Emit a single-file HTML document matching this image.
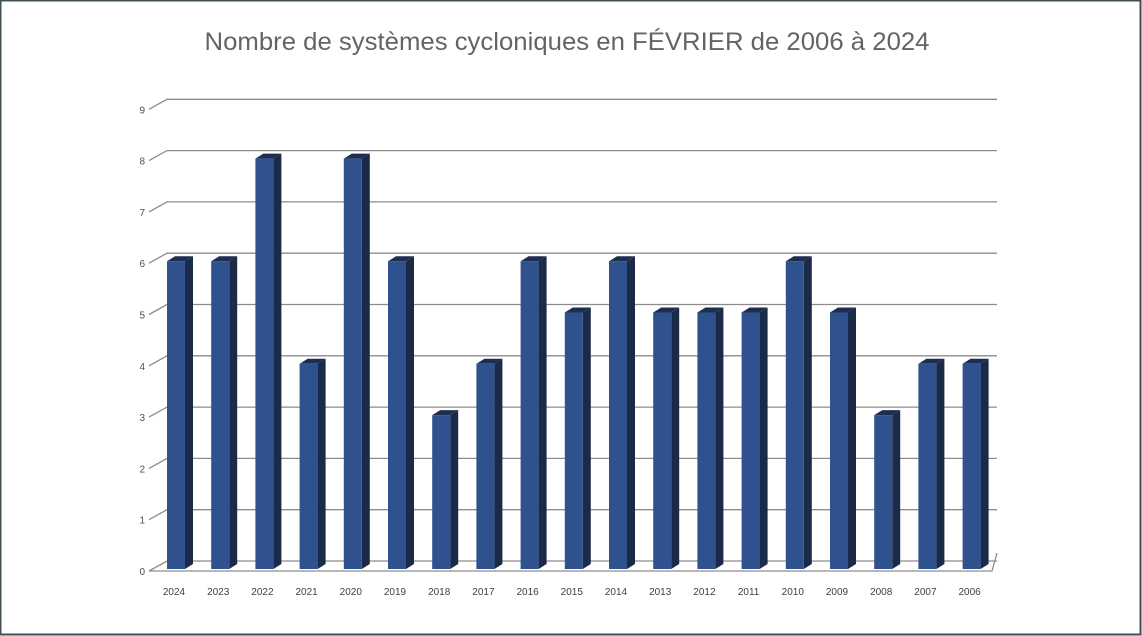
<!DOCTYPE html>
<html><head><meta charset="utf-8"><style>
html,body{margin:0;padding:0;background:#fff;}
svg{display:block;}
</style></head><body>
<svg id="chart" width="1142" height="636" xmlns="http://www.w3.org/2000/svg" font-family="Liberation Sans, sans-serif">
<rect x="0.5" y="0.5" width="1140" height="634" fill="#fff" stroke="#3f4f55" stroke-width="2"/>
<text x="567" y="50" text-anchor="middle" font-size="25" fill="#646464" textLength="725" lengthAdjust="spacingAndGlyphs">Nombre de systèmes cycloniques en FÉVRIER de 2006 à 2024</text>
<g id="grid"></g>
<g id="bars"></g>
<g id="labels"></g>
</svg>
<script>
const categories = ["2024","2023","2022","2021","2020","2019","2018","2017","2016","2015","2014","2013","2012","2011","2010","2009","2008","2007","2006"];
const values = [6,6,8,4,8,6,3,4,6,5,6,5,5,5,6,5,3,4,4];
const yTicks = [0,1,2,3,4,5,6,7,8,9];

const NS = "http://www.w3.org/2000/svg";
const frontX = 149, backX = 167, backRight = 997;
const frontY0 = 571, unit = 51.3, wallDy = 10;
const barBase = 569, barW = 18, depthX = 8, depthY = 5;
const barX0 = 167, pitch = 44.2;
function yFront(v){ return frontY0 - v*unit; }
function yBar(v){ return barBase - v*unit; }
function xBar(i){ return barX0 + i*pitch; }
function mk(tag, attrs, parent){ const e=document.createElementNS(NS,tag); for(const k in attrs) e.setAttribute(k,attrs[k]); parent.appendChild(e); return e; }

const grid = document.getElementById('grid');
yTicks.forEach(t=>{
  const yf = yFront(t), yb = yf - wallDy;
  const g = mk('g',{},grid);
  
  
  mk('polyline',{points:`${frontX},${yf} ${backX},${yb} ${backRight},${yb}`,fill:'none',stroke:'#8c8c8c','stroke-width':1.3},g);
  const tx = mk('text',{x:frontX-4,y:yf+4,'text-anchor':'end','font-size':10,fill:'#505050'},g);
  tx.textContent = t;
  
  
});
const floor = mk('polyline',{points:`${frontX},${frontY0} ${992},${frontY0} ${backRight},${frontY0-wallDy-8}`,fill:'none',stroke:'#8c8c8c','stroke-width':1.3},grid);



const bars = document.getElementById('bars');
const labels = document.getElementById('labels');
values.forEach((v,i)=>{
  const x = xBar(i), yt = yBar(v);
  const g = mk('g',{},bars);
  
  
  mk('polygon',{points:`${x+barW},${yt} ${x+barW+depthX},${yt-depthY} ${x+barW+depthX},${barBase-depthY} ${x+barW},${barBase}`,fill:'#1b2a48'},g);
  mk('polygon',{points:`${x},${yt} ${x+depthX},${yt-depthY} ${x+barW+depthX},${yt-depthY} ${x+barW},${yt}`,fill:'#1e2e52'},g);
  mk('rect',{x:x,y:yt,width:barW,height:barBase-yt,fill:'#2f528f'},g);
  const tx = mk('text',{x:x+barW/2-2,y:595,'text-anchor':'middle','font-size':10,fill:'#404040'},labels);
  tx.textContent = categories[i];
  
  
});
</script>
</body></html>
